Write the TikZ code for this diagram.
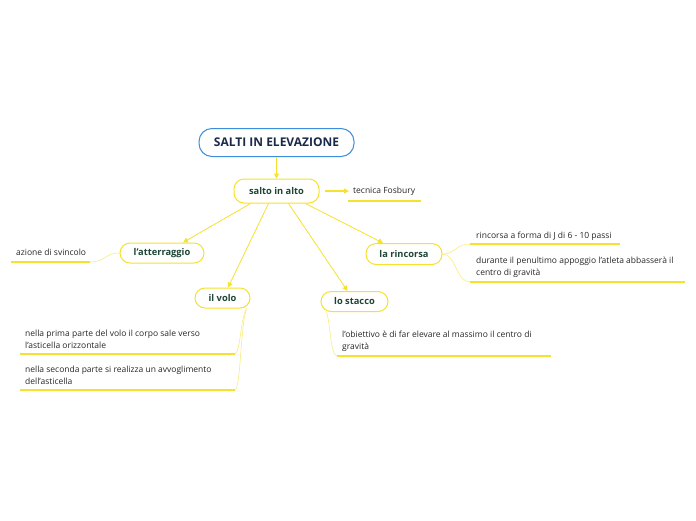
\documentclass[tikz,border=0pt]{standalone}
\usepackage{fontspec}
\setmainfont{Open Sans}
\usetikzlibrary{arrows.meta}
\definecolor{ylw}{HTML}{F5E12E}
\definecolor{ylwl}{HTML}{F8EC80}
\definecolor{blu}{HTML}{3A8EDB}
\definecolor{navy}{HTML}{1B2A4A}
\definecolor{dgreen}{HTML}{1E4636}
\definecolor{txt}{HTML}{262626}
\begin{document}
\begin{tikzpicture}[x=1pt,y=-1pt,
 topic/.style={draw=ylw, line width=1pt, fill=white, rounded corners=10pt, font=\fontsize{9.3}{11}\selectfont\bfseries, text=dgreen, inner sep=0pt},
 arr/.style={draw=ylw, line width=0.8pt, -{Triangle[length=5pt,width=5pt]}},
 sub/.style={font=\fontsize{8.5}{12}\selectfont, text=txt, anchor=west, align=left, inner sep=0pt},
 uline/.style={draw=ylw, line width=1.6pt},
 link/.style={draw=ylwl, line width=0.6pt}]
\useasboundingbox (0,0) rectangle (696,520);
% nodes
\node[draw=blu, line width=1pt, fill=white, rounded corners=13pt, minimum width=155pt, minimum height=28pt, inner sep=0pt, font=\fontsize{12}{14}\selectfont\bfseries, text=navy] (title) at (276.5,142.5) {SALTI IN ELEVAZIONE};
\node[topic, minimum width=85pt, minimum height=24pt] (salto) at (276.5,191) {salto in alto};
\node[topic, minimum width=84pt, minimum height=20pt] (atterr) at (162,253) {l'atterraggio};
\node[topic, minimum width=55pt, minimum height=20pt] (volo) at (222.5,298) {il volo};
\node[topic, minimum width=67pt, minimum height=20pt] (stacco) at (354.5,301.5) {lo stacco};
\node[topic, minimum width=76pt, minimum height=21pt] (rinc) at (404,254) {la rincorsa};
% texts
\node[sub] (fos) at (353,191) {tecnica Fosbury};
\node[sub] (svin) at (16,252) {azione di svincolo};
\node[sub] (r1) at (476,236) {rincorsa a forma di J di 6 - 10 passi};
\node[sub] (r2) at (476,267) {durante il penultimo appoggio l'atleta abbasserà il\\centro di gravità};
\node[sub] (v1) at (25,339) {nella prima parte del volo il corpo sale verso\\l'asticella orizzontale};
\node[sub] (v2) at (25,375) {nella seconda parte si realizza un avvoglimento\\dell'asticella};
\node[sub] (s1) at (342,341) {l'obiettivo è di far elevare al massimo il centro di\\gravità};
% underline coordinates
\coordinate (fosA) at (348,201); \coordinate (fosB) at (421,201);
\coordinate (sv0) at (11,262); \coordinate (sv1) at (90,262);
\coordinate (r1a) at (470,244); \coordinate (r1b) at (620,244);
\coordinate (r2a) at (470,282); \coordinate (r2b) at (685,282);
\coordinate (v1a) at (20,354); \coordinate (v1b) at (235,354);
\coordinate (v2a) at (20,390); \coordinate (v2b) at (235,390);
\coordinate (s1a) at (337,356); \coordinate (s1b) at (551,356);
\foreach \a/\b in {fosA/fosB,sv0/sv1,r1a/r1b,r2a/r2b,v1a/v1b,v2a/v2b,s1a/s1b}
  \draw[uline] (\a) -- (\b);
% arrows
\draw[arr] (title.south) -- (salto.north);
\draw[arr, line width=1.2pt] ([xshift=5pt]salto.east) -- ([xshift=-4pt]fos.west);
\draw[arr] ([xshift=-26pt]salto.south) -- ([xshift=21pt]atterr.north);
\draw[arr] ([xshift=-8pt]salto.south) -- ([xshift=5.5pt]volo.north);
\draw[arr] ([xshift=12pt]salto.south) -- ([xshift=-7pt]stacco.north);
\draw[arr] ([xshift=29pt]salto.south) -- ([xshift=-21pt]rinc.north);
% links
\draw[link] (sv1) .. controls (106,262) and (104,253) .. (atterr.west);
\draw[link] (rinc.east) .. controls (456,254) and (455,244) .. (r1a);
\draw[link] (rinc.east) .. controls (456,254) and (456,282) .. (r2a);
\draw[link] ([xshift=24pt]volo.south) .. controls (240,320) and (241,350) .. (v1b);
\draw[link] ([xshift=24pt]volo.south) .. controls (240,330) and (241,386) .. (v2b);
\draw[link] ([xshift=-28pt]stacco.south) .. controls (331,326) and (330,354) .. (s1a);
\end{tikzpicture}
\end{document}
